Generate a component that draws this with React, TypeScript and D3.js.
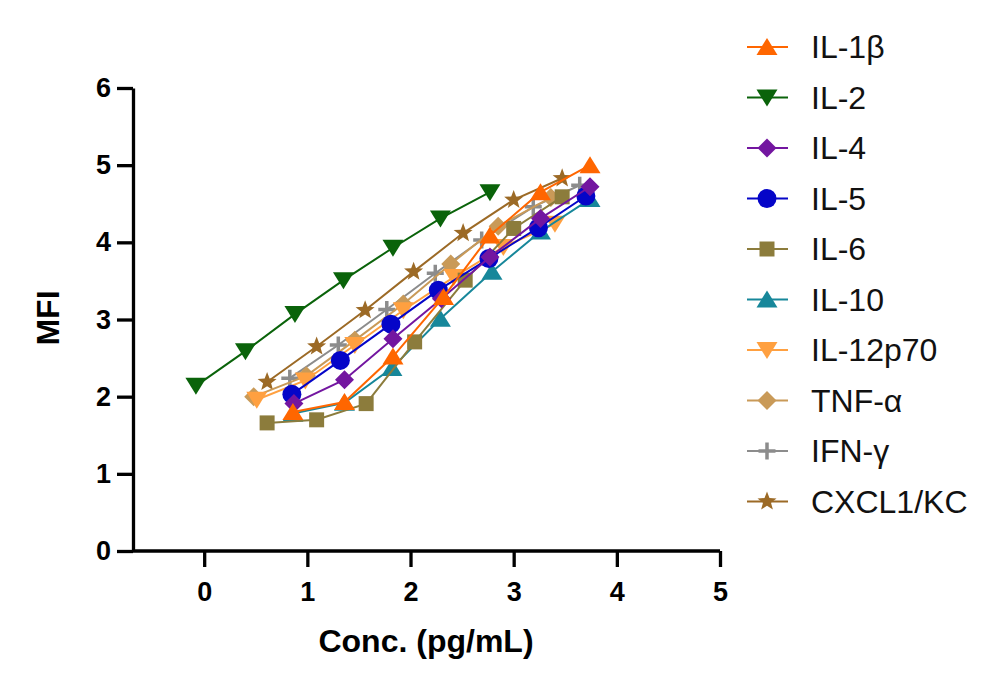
import React, { useEffect, useRef } from 'react';
import * as d3 from 'd3';

// log conc. vs MFI, one array of [x, y] per cytokine
const il1b = [[0.86, 1.80], [1.36, 1.93], [1.83, 2.52], [2.32, 3.29], [2.77, 4.09], [3.26, 4.65], [3.74, 5.00]];
const il2 = [[-0.08, 2.14], [0.40, 2.59], [0.88, 3.07], [1.35, 3.51], [1.83, 3.93], [2.29, 4.31], [2.77, 4.65]];
const il4 = [[0.87, 1.91], [1.36, 2.22], [1.83, 2.75], [2.30, 3.27], [2.77, 3.81], [3.26, 4.31], [3.74, 4.72]];
const il5 = [[0.85, 2.03], [1.32, 2.47], [1.81, 2.94], [2.27, 3.38], [2.76, 3.79], [3.24, 4.19], [3.70, 4.60]];
const il6 = [[0.61, 1.66], [1.09, 1.70], [1.57, 1.91], [2.04, 2.71], [2.53, 3.51], [3.00, 4.18], [3.47, 4.59]];
const il10 = [[0.86, 1.78], [1.36, 1.92], [1.82, 2.37], [2.29, 3.01], [2.79, 3.62], [3.26, 4.14], [3.74, 4.56]];
const il12 = [[0.51, 1.96], [0.98, 2.21], [1.46, 2.67], [1.93, 3.12], [2.42, 3.55], [2.90, 3.94], [3.40, 4.24]];
const tnfa = [[0.48, 2.00], [0.99, 2.27], [1.46, 2.73], [1.93, 3.20], [2.39, 3.72], [2.85, 4.21], [3.36, 4.58]];
const ifng = [[0.83, 2.24], [1.30, 2.67], [1.77, 3.13], [2.24, 3.60], [2.69, 4.03], [3.19, 4.46], [3.64, 4.74]];
const cxcl1 = [[0.61, 2.19], [1.09, 2.65], [1.56, 3.12], [2.03, 3.62], [2.51, 4.12], [3.00, 4.55], [3.47, 4.83]];

const names = ['IL-1β', 'IL-2', 'IL-4', 'IL-5', 'IL-6', 'IL-10', 'IL-12p70', 'TNF-α', 'IFN-γ', 'CXCL1/KC'];
const colors = ['#ff6600', '#0a630a', '#7316a0', '#0505c8', '#8c7c3c', '#17879a', '#ffa040', '#c99a58', '#8c8c8c', '#9c6a26'];
const shapes = ['triUp', 'triDown', 'diamond', 'circle', 'square', 'triUp', 'triDown', 'diamond', 'plus', 'star'];
const seriesData = [il1b, il2, il4, il5, il6, il10, il12, tnfa, ifng, cxcl1];

const xTicks = [0, 1, 2, 3, 4, 5];
const yTicks = [0, 1, 2, 3, 4, 5, 6];

const markerPath = (shape: string): string => {
  switch (shape) {
    case 'triUp': return 'M0,-9L10.5,8L-10.5,8Z';
    case 'triDown': return 'M0,9L10.5,-8L-10.5,-8Z';
    case 'diamond': return 'M0,-9.5L9.5,0L0,9.5L-9.5,0Z';
    case 'square': return 'M-7.5,-7.5H7.5V7.5H-7.5Z';
    case 'plus': return 'M-8.5,0H8.5M0,-8.5V8.5';
    case 'star': {
      const pts: string[] = [];
      for (let i = 0; i < 10; i++) {
        const r = i % 2 === 0 ? 10 : 4.2;
        const a = (Math.PI / 5) * i - Math.PI / 2;
        pts.push(`${(r * Math.cos(a)).toFixed(2)},${(r * Math.sin(a)).toFixed(2)}`);
      }
      return 'M' + pts.join('L') + 'Z';
    }
    default: return '';
  }
};

const drawMarker = (g: any, shape: string, color: string) => {
  if (shape === 'circle') {
    g.append('circle').attr('r', 9.5).attr('fill', color);
  } else if (shape === 'plus') {
    g.append('path').attr('d', markerPath(shape)).attr('stroke', color).attr('stroke-width', 3.5).attr('fill', 'none');
  } else {
    g.append('path').attr('d', markerPath(shape)).attr('fill', color);
  }
};

const App: React.FC = () => {
  const svgRef = useRef<SVGSVGElement>(null);

  useEffect(() => {
    const svg = d3.select(svgRef.current);
    svg.selectAll('*').remove();

    const x = d3.scaleLinear().domain([-0.69, 5]).range([133, 720]);
    const y = d3.scaleLinear().domain([0, 6]).range([551, 88]);
    const font = 'Liberation Sans, Arial, Helvetica, sans-serif';

    // series, last one drawn first so IL-1β ends on top
    for (let i = seriesData.length - 1; i >= 0; i--) {
      const pts = seriesData[i];
      const line = d3.line<number[]>().x(d => x(d[0])).y(d => y(d[1]));
      svg.append('path')
        .attr('d', line(pts))
        .attr('fill', 'none')
        .attr('stroke', colors[i])
        .attr('stroke-width', 2);
      pts.forEach(p => {
        const g = svg.append('g').attr('transform', `translate(${x(p[0])},${y(p[1])})`);
        drawMarker(g, shapes[i], colors[i]);
      });
    }

    // axes
    const yAxis = svg.append('g').attr('transform', 'translate(133,0)')
      .call(d3.axisLeft(y).tickValues(yTicks).tickFormat(d3.format('d')).tickSize(16).tickPadding(6).tickSizeOuter(0));
    const xAxis = svg.append('g').attr('transform', 'translate(0,551)')
      .call(d3.axisBottom(x).tickValues(xTicks).tickFormat(d3.format('d')).tickSize(16).tickPadding(15).tickSizeOuter(0));
    [yAxis, xAxis].forEach(a => {
      a.select('.domain').attr('stroke', '#000').attr('stroke-width', 3.3);
      a.selectAll('.tick line').attr('stroke', '#000').attr('stroke-width', 3.3);
      a.selectAll('.tick text')
        .attr('fill', '#000')
        .style('font-family', font)
        .style('font-size', '27px')
        .style('font-weight', 'bold');
    });
    xAxis.select('.domain').attr('d', 'M133,0H720');

    svg.append('text')
      .attr('transform', 'translate(59,318) rotate(-90)')
      .attr('text-anchor', 'middle')
      .style('font-family', font)
      .style('font-size', '32px')
      .style('font-weight', 'bold')
      .text('MFI');

    svg.append('text')
      .attr('x', 426)
      .attr('y', 652)
      .attr('text-anchor', 'middle')
      .style('font-family', font)
      .style('font-size', '32px')
      .style('font-weight', 'bold')
      .text('Conc. (pg/mL)');

    // legend
    names.forEach((name, i) => {
      const cy = 47 + i * 50.5;
      svg.append('line')
        .attr('x1', 747).attr('x2', 788)
        .attr('y1', cy).attr('y2', cy)
        .attr('stroke', colors[i]).attr('stroke-width', 2);
      const g = svg.append('g').attr('transform', `translate(767,${cy})`);
      drawMarker(g, shapes[i], colors[i]);
      svg.append('text')
        .attr('x', 811)
        .attr('y', cy + 11)
        .style('font-family', font)
        .style('font-size', '32px')
        .attr('fill', '#111')
        .text(name);
    });
  }, []);

  return (
    <div style={{ position: 'absolute', left: 0, top: 0, background: '#fff' }}>
      <svg ref={svgRef} width={998} height={685}></svg>
    </div>
  );
};

export default App;
